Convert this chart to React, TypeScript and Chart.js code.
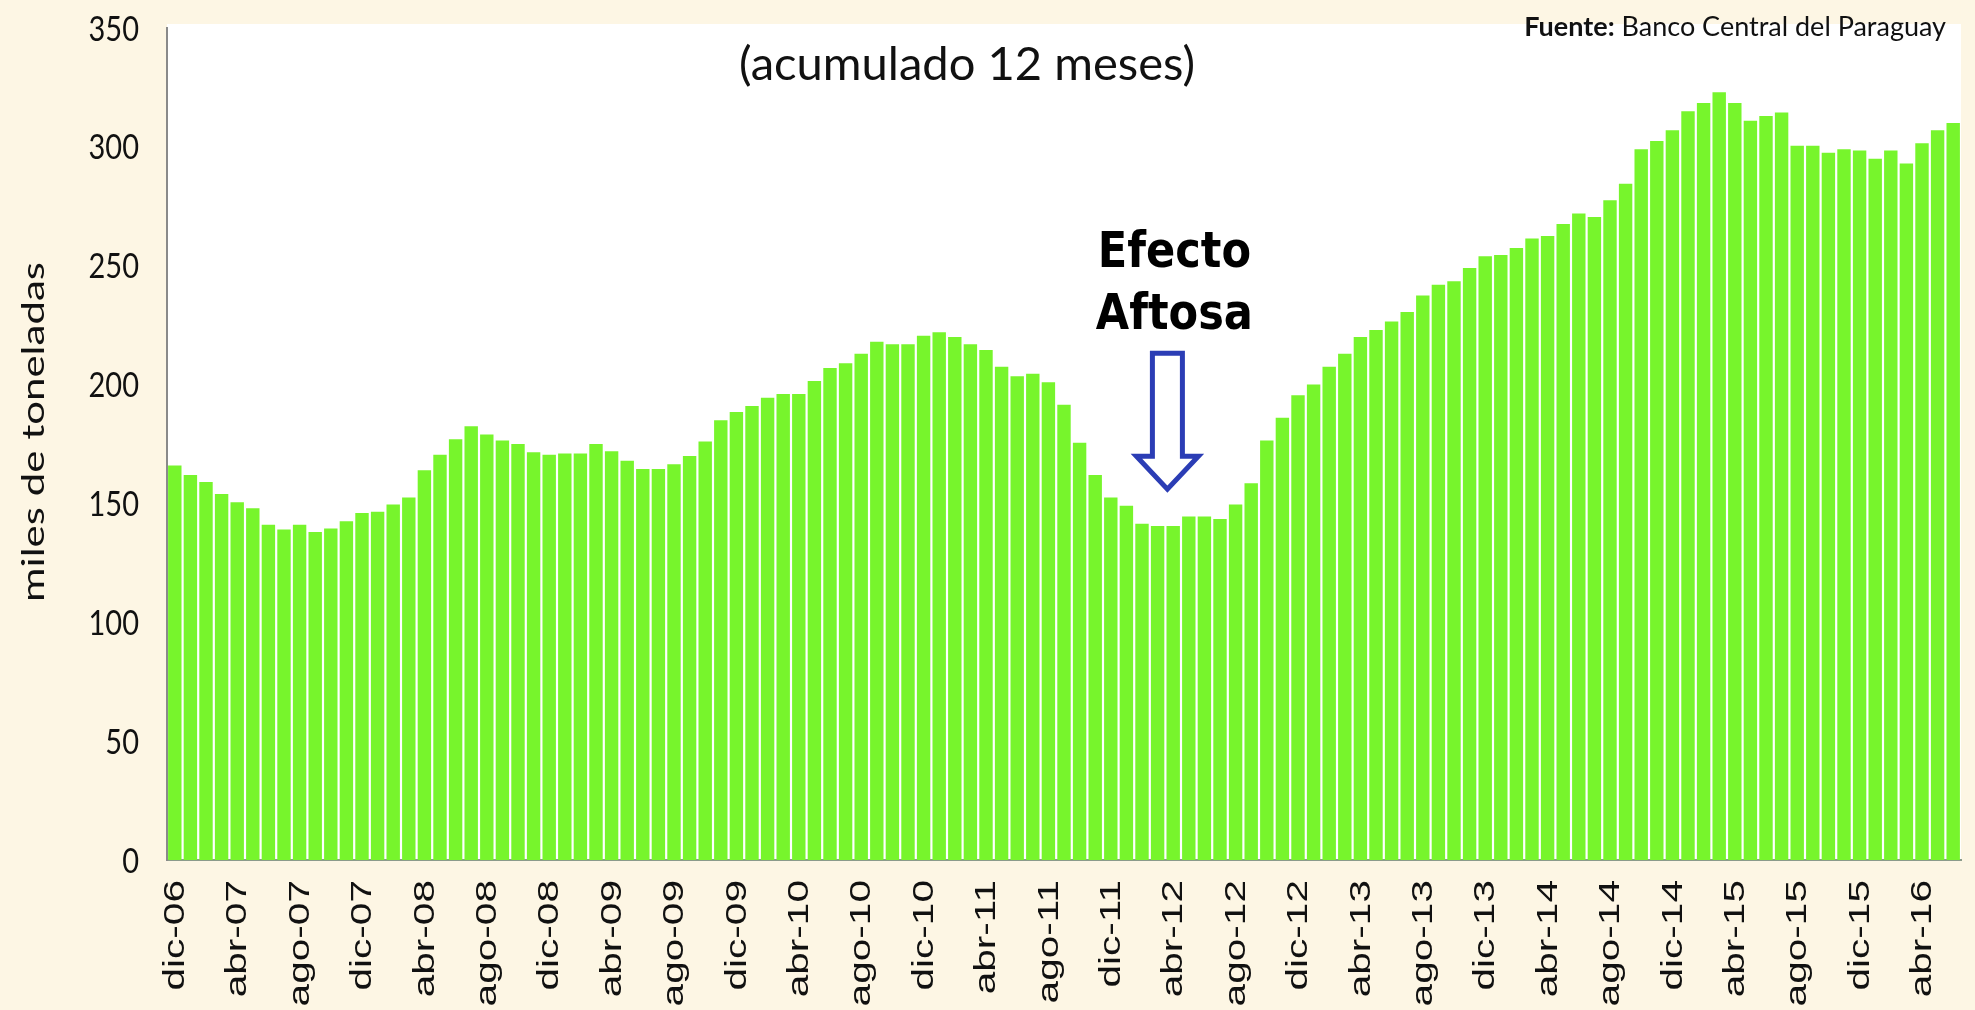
import React, { useEffect, useRef } from "react";
import { Chart, registerables } from "chart.js";

Chart.register(...registerables);

// ---------- data ----------
const categories: string[] = [
  "dic-06",
  "ene-07", "feb-07", "mar-07", "abr-07", "may-07", "jun-07", "jul-07", "ago-07", "sep-07", "oct-07", "nov-07", "dic-07",
  "ene-08", "feb-08", "mar-08", "abr-08", "may-08", "jun-08", "jul-08", "ago-08", "sep-08", "oct-08", "nov-08", "dic-08",
  "ene-09", "feb-09", "mar-09", "abr-09", "may-09", "jun-09", "jul-09", "ago-09", "sep-09", "oct-09", "nov-09", "dic-09",
  "ene-10", "feb-10", "mar-10", "abr-10", "may-10", "jun-10", "jul-10", "ago-10", "sep-10", "oct-10", "nov-10", "dic-10",
  "ene-11", "feb-11", "mar-11", "abr-11", "may-11", "jun-11", "jul-11", "ago-11", "sep-11", "oct-11", "nov-11", "dic-11",
  "ene-12", "feb-12", "mar-12", "abr-12", "may-12", "jun-12", "jul-12", "ago-12", "sep-12", "oct-12", "nov-12", "dic-12",
  "ene-13", "feb-13", "mar-13", "abr-13", "may-13", "jun-13", "jul-13", "ago-13", "sep-13", "oct-13", "nov-13", "dic-13",
  "ene-14", "feb-14", "mar-14", "abr-14", "may-14", "jun-14", "jul-14", "ago-14", "sep-14", "oct-14", "nov-14", "dic-14",
  "ene-15", "feb-15", "mar-15", "abr-15", "may-15", "jun-15", "jul-15", "ago-15", "sep-15", "oct-15", "nov-15", "dic-15",
  "ene-16", "feb-16", "mar-16", "abr-16", "may-16", "jun-16",
];

// miles de toneladas (acumulado 12 meses)
const values: number[] = [
  166,
  162, 159, 154, 150.5, 148, 141, 139, 141, 138, 139.5, 142.5, 146,
  146.5, 149.5, 152.5, 164, 170.5, 177, 182.5, 179, 176.5, 175, 171.5, 170.5,
  171, 171, 175, 172, 168, 164.5, 164.5, 166.5, 170, 176, 185, 188.5,
  191, 194.5, 196, 196, 201.5, 207, 209, 213, 218, 217, 217, 220.5,
  222, 220, 217, 214.5, 207.5, 203.5, 204.5, 201, 191.5, 175.5, 162, 152.5,
  149, 141.5, 140.5, 140.5, 144.5, 144.5, 143.5, 149.5, 158.5, 176.5, 186, 195.5,
  200, 207.5, 213, 220, 223, 226.5, 230.5, 237.5, 242, 243.5, 249, 254,
  254.5, 257.5, 261.5, 262.5, 267.5, 272, 270.5, 277.5, 284.5, 299, 302.5, 307,
  315, 318.5, 323, 318.5, 311, 313, 314.5, 300.5, 300.5, 297.5, 299, 298.5,
  295, 298.5, 293, 301.5, 307, 310,
];

const yTickValues: number[] = [0, 50, 100, 150, 200, 250, 300, 350];
const labelEvery = 4; // dic-06, abr-07, ago-07, ...

const titleText = "(acumulado 12 meses)";
const sourceBold = "Fuente:";
const sourceText = " Banco Central del Paraguay";
const yTitle = "miles de toneladas";
const noteLines: string[] = ["Efecto", "Aftosa"];
const noteCategory = 63.5; // arrow points between mar-12 and abr-12
const noteTipValue = 156;

// ---------- styles ----------
const CREAM = "#fdf6e4";
const BAR = "#77f52c";
const TEXT = "#111111";
const ARROW = "#2b3db5";

const decorPlugin = {
  id: "decor",
  beforeDraw(chart: any) {
    const { ctx, chartArea: a, width, height } = chart;
    ctx.save();
    ctx.fillStyle = CREAM;
    ctx.fillRect(0, 0, width, height);
    ctx.fillStyle = "#ffffff";
    ctx.fillRect(a.left, a.top - 4, a.right - a.left, a.bottom - a.top + 4);
    ctx.restore();
  },
  afterDraw(chart: any) {
    const { ctx, chartArea: a } = chart;
    const xs = chart.scales.x;
    const ys = chart.scales.y;

    // y tick labels (slightly stretched like the source)
    ctx.save();
    ctx.fillStyle = TEXT;
    ctx.font = '29px Lato, "Open Sans", sans-serif';
    ctx.textAlign = "right";
    ctx.textBaseline = "middle";
    yTickValues.forEach((v) => {
      const y = ys.getPixelForValue(v);
      ctx.save();
      ctx.translate(a.left - 28, y);
      ctx.scale(1, 1.22);
      ctx.fillText(String(v), 0, 1);
      ctx.restore();
    });
    ctx.restore();

    // x tick labels (rotated, stretched like the source)
    ctx.save();
    ctx.fillStyle = TEXT;
    ctx.font = '28px "Liberation Sans", Arial, sans-serif';
    ctx.textAlign = "right";
    ctx.textBaseline = "middle";
    categories.forEach((c, i) => {
      if (i % labelEvery !== 0) return;
      const x = xs.getPixelForValue(i);
      ctx.save();
      ctx.translate(x + 1, a.bottom + 20);
      ctx.rotate(-Math.PI / 2);
      ctx.scale(1.45, 1.05);
      ctx.fillText(c, 0, 0);
      ctx.restore();
    });
    ctx.restore();

    // y axis title
    ctx.save();
    ctx.fillStyle = TEXT;
    ctx.font = '31px Lato, "Open Sans", sans-serif';
    ctx.textAlign = "center";
    ctx.textBaseline = "middle";
    const yw = ctx.measureText(yTitle).width;
    ctx.translate(34, 432);
    ctx.rotate(-Math.PI / 2);
    ctx.scale(340 / yw, 1);
    ctx.fillText(yTitle, 0, 0);
    ctx.restore();

    // subtitle inside plot
    ctx.save();
    ctx.fillStyle = TEXT;
    ctx.font = '44px Lato, "Open Sans", sans-serif';
    ctx.textAlign = "center";
    ctx.textBaseline = "middle";
    const tw = ctx.measureText(titleText).width;
    ctx.translate(967, 65);
    ctx.scale(456 / tw, 1.05);
    ctx.fillText(titleText, 0, 0);
    ctx.restore();

    // source
    ctx.save();
    ctx.fillStyle = TEXT;
    ctx.textBaseline = "alphabetic";
    ctx.textAlign = "right";
    ctx.font = '27px Lato, "Open Sans", sans-serif';
    const sRight = 1946;
    const sy = 36;
    const w2 = ctx.measureText(sourceText).width;
    ctx.fillText(sourceText, sRight, sy);
    ctx.font = 'bold 27px Lato, "Open Sans", sans-serif';
    ctx.fillText(sourceBold, sRight - w2, sy);
    ctx.restore();

    // annotation: hollow arrow + text
    const cx = xs.getPixelForValue(noteCategory) + 2;
    const ty = ys.getPixelForValue(noteTipValue);
    ctx.save();
    ctx.beginPath();
    ctx.moveTo(cx - 15, ty - 136);
    ctx.lineTo(cx + 15, ty - 136);
    ctx.lineTo(cx + 15, ty - 33);
    ctx.lineTo(cx + 31, ty - 33);
    ctx.lineTo(cx, ty);
    ctx.lineTo(cx - 31, ty - 33);
    ctx.lineTo(cx - 15, ty - 33);
    ctx.closePath();
    ctx.fillStyle = "#ffffff";
    ctx.fill();
    ctx.lineWidth = 5;
    ctx.strokeStyle = ARROW;
    ctx.lineJoin = "miter";
    ctx.stroke();

    ctx.fillStyle = "#000000";
    ctx.font = 'bold 44px "DejaVu Sans", sans-serif';
    ctx.textAlign = "center";
    ctx.textBaseline = "alphabetic";
    ctx.save();
    ctx.translate(cx + 7, ty - 222);
    ctx.scale(0.98, 1.12);
    ctx.fillText(noteLines[0], 0, 0);
    ctx.restore();
    ctx.save();
    ctx.translate(cx + 7, ty - 160);
    ctx.scale(0.98, 1.12);
    ctx.fillText(noteLines[1], 0, 0);
    ctx.restore();
    ctx.restore();
  },
};

export default function App() {
  const canvasRef = useRef<HTMLCanvasElement | null>(null);

  useEffect(() => {
    const canvas = canvasRef.current;
    if (!canvas) return;
    const chart = new Chart(canvas, {
      type: "bar",
      data: {
        labels: categories,
        datasets: [
          {
            data: values,
            backgroundColor: BAR,
            borderWidth: 0,
            barPercentage: 0.86,
            categoryPercentage: 1,
          },
        ],
      },
      options: {
        responsive: false,
        animation: false,
        devicePixelRatio: 1,
        layout: { padding: { top: 28, right: 14, left: 0, bottom: 0 } },
        plugins: {
          legend: { display: false },
          tooltip: { enabled: false },
          title: { display: false },
        },
        scales: {
          x: {
            type: "category",
            grid: { display: false, drawTicks: false },
            border: { display: true, color: "#8b9b8b", width: 2 },
            ticks: { display: false },
            afterFit: (scale: any) => {
              scale.height = 150;
            },
          },
          y: {
            min: 0,
            max: 350,
            grid: { display: false, drawTicks: false },
            border: { display: true, color: "#8a8a8a", width: 2 },
            afterBuildTicks: (scale: any) => {
              scale.ticks = yTickValues.map((v) => ({ value: v }));
            },
            ticks: { display: false },
            afterFit: (scale: any) => {
              scale.width = 167;
            },
          },
        },
      },
      plugins: [decorPlugin],
    });
    return () => chart.destroy();
  }, []);

  return (
    <div style={{ position: "fixed", left: 0, top: 0, width: 1975, height: 1010, background: CREAM }}>
      <canvas ref={canvasRef} width={1975} height={1010} style={{ width: 1975, height: 1010, display: "block" }} />
    </div>
  );
}
